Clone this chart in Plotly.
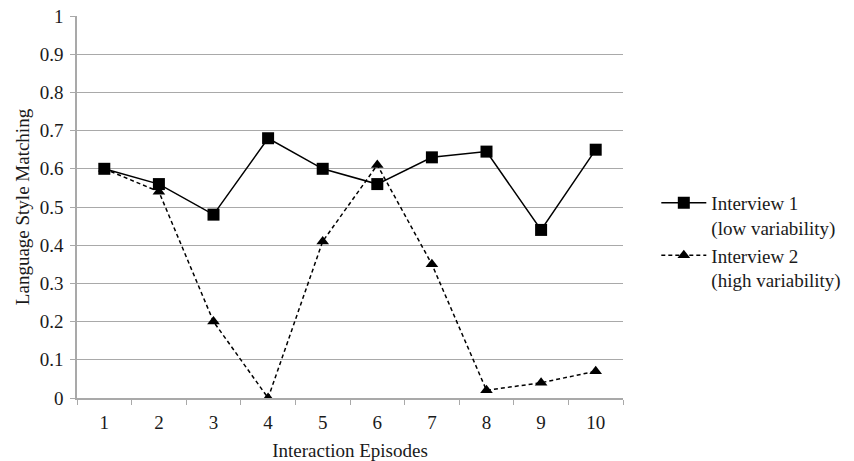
import plotly.graph_objects as go

episodes = ["1", "2", "3", "4", "5", "6", "7", "8", "9", "10"]
interview1 = [0.60, 0.56, 0.48, 0.68, 0.60, 0.56, 0.63, 0.645, 0.44, 0.65]
interview2 = [0.60, 0.54, 0.20, 0.00, 0.41, 0.61, 0.35, 0.02, 0.04, 0.07]
series_names = ["Interview 1<br>(low variability)", "Interview 2<br>(high variability)"]
y_ticks = [0, 0.1, 0.2, 0.3, 0.4, 0.5, 0.6, 0.7, 0.8, 0.9, 1]
y_ticktext = ["0", "0.1", "0.2", "0.3", "0.4", "0.5", "0.6", "0.7", "0.8", "0.9", "1"]

FONT = "Liberation Serif, Times New Roman, serif"
FS = 19
GRID = "#a9a9a9"

fig = go.Figure()
fig.add_trace(go.Scatter(
    x=episodes, y=interview1, name=series_names[0], mode="lines+markers",
    line=dict(color="black", width=1.5),
    marker=dict(symbol="square", size=12, color="black"),
))
fig.add_trace(go.Scatter(
    x=episodes, y=interview2, name=series_names[1], mode="lines+markers",
    line=dict(color="black", width=1.5, dash="4px,3px"),
    marker=dict(symbol="triangle-up", size=11, color="black"),
))

fig.update_layout(
    width=854, height=461,
    margin=dict(l=77, r=231, t=16, b=62.5, autoexpand=False),
    paper_bgcolor="white", plot_bgcolor="white",
    font=dict(family=FONT, size=FS, color="#1a1a1a"),
    showlegend=True,
    legend=dict(x=1.061, y=0.41, xanchor="left", yanchor="middle",
                valign="top", font=dict(family=FONT, size=FS), itemwidth=45,
                bgcolor="rgba(0,0,0,0)"),
    xaxis=dict(type="category", range=[-0.5, 9.5], showgrid=False, automargin=False,
               showline=True, linecolor=GRID, linewidth=1.5,
               ticks="outside", tickson="boundaries", ticklen=5, tickcolor=GRID,
               tickfont=dict(family=FONT, size=FS), ticklabelstandoff=6,
               title=dict(text="Interaction Episodes", font=dict(family=FONT, size=FS), standoff=12)),
    yaxis=dict(range=[0, 1], tickvals=y_ticks, ticktext=y_ticktext, automargin=False,
               showgrid=True, gridcolor=GRID, gridwidth=1.2, ticklabeloverflow="allow",
               showline=True, linecolor=GRID, linewidth=1.5,
               ticks="outside", ticklen=5, tickcolor=GRID, zeroline=False,
               tickfont=dict(family=FONT, size=FS), ticklabelstandoff=3,
               title=dict(text="Language Style Matching", font=dict(family=FONT, size=FS), standoff=5)),
)

fig.write_html("out.html", config={"displayModeBar": False},
               post_script="document.body.style.margin='0';")
